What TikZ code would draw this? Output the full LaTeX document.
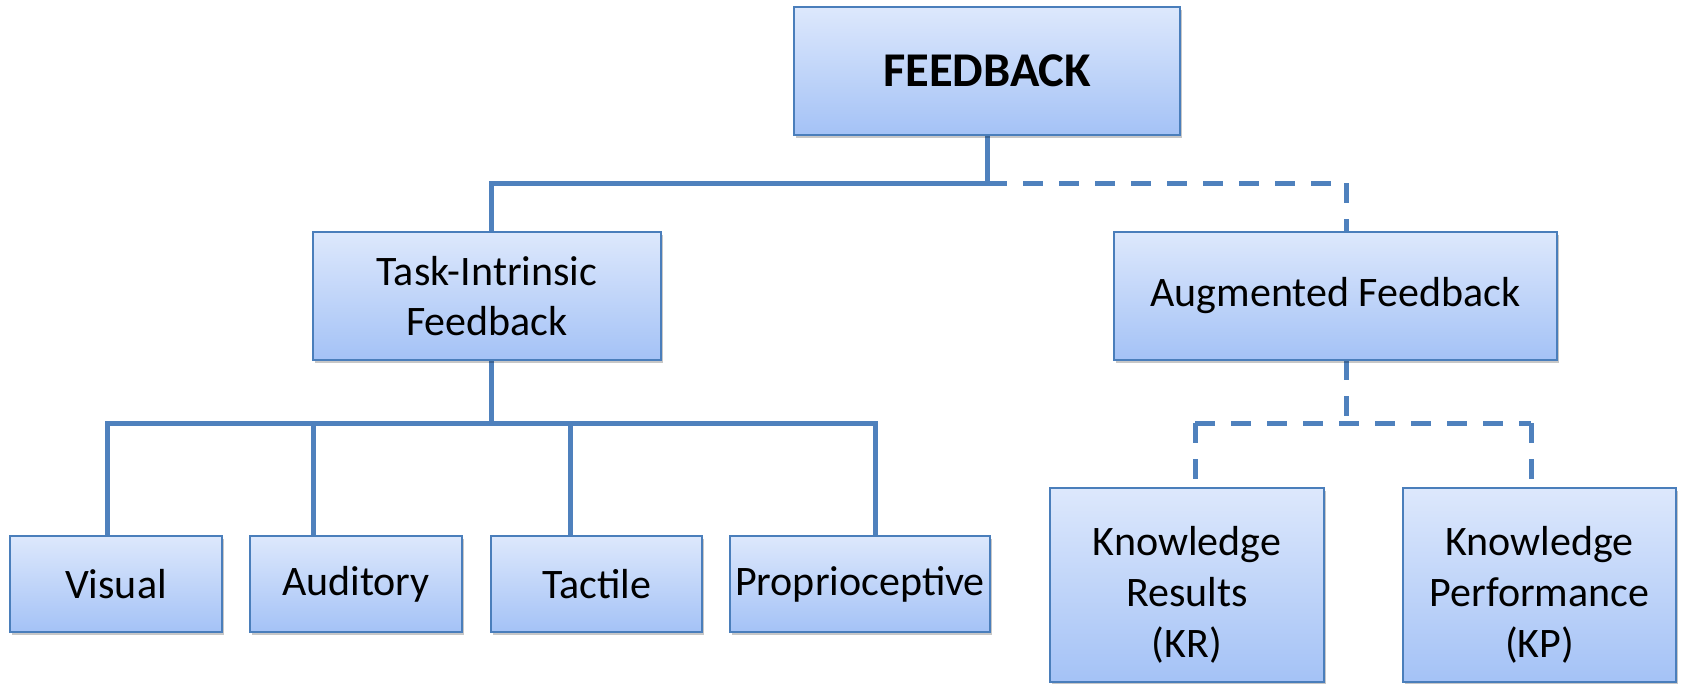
\documentclass[tikz,border=0pt]{standalone}
\usepackage{fontspec}
\setmainfont{Carlito}
\usetikzlibrary{shadows}
\definecolor{linkblue}{HTML}{4F81BD}
\definecolor{boxtop}{HTML}{DDE8FC}
\definecolor{boxbot}{HTML}{A4C2F6}
\definecolor{boxline}{HTML}{4A7EBB}
\tikzset{
  box/.style={draw=boxline, line width=2.5pt, top color=boxtop, bottom color=boxbot,
    align=center, inner sep=0pt,
    font=\fontsize{42}{50}\selectfont,
    drop shadow={shadow xshift=1.5pt, shadow yshift=-3pt, opacity=0.22, fill=black}},
  link/.style={draw=linkblue, line width=5pt},
  dlink/.style={link, dash pattern=on 20pt off 16pt},
}
\begin{document}
\begin{tikzpicture}[x=1pt, y=-1pt]
  \fill[white] (0,0) rectangle (1685,683);
  \useasboundingbox (0,0) rectangle (1685,683);

  % bend points of the connectors
  \coordinate (jtop) at (987,183);
  \coordinate (jaf) at (1346,183);
  \coordinate (jleft) at (491,423);
  \coordinate (kcl) at (1195,423);
  \coordinate (kcr) at (1531,423);

  % connectors (drawn first, boxes sit on top)
  \draw[dlink] (jtop) -- (jaf);
  \draw[dlink] (jaf) -- (1346,232);
  \draw[link] (987,135) -- (jtop) -| (491,232);

  \draw[link] (491,360) -- (jleft);
  \draw[link] (107,536) -- (107,423) -| (875,536);
  \draw[link] (313,423) -- (313,536);
  \draw[link] (570,423) -- (570,536);

  \draw[dlink] (1346,360) -- (1346,423);
  \draw[dlink] (kcl) -- (kcr);
  \draw[dlink] (kcl) -- (1195,488);
  \draw[dlink] (kcr) -- (1531,488);

  % boxes
  \node[box, minimum width=386pt, minimum height=128pt,
        font=\fontsize{48.5}{56}\selectfont\bfseries] (fb) at (987,71) {FEEDBACK};
  \node[box, minimum width=348pt, minimum height=128pt] (ti) at (487,296) {Task-Intrinsic\\Feedback};
  \node[box, minimum width=443pt, minimum height=128pt] (af) at (1335.5,296) {Augmented Feedback};

  \node[box, minimum width=212pt, minimum height=96pt] (vis) at (116,584) {Visual};
  \node[box, minimum width=212pt, minimum height=96pt] (aud) at (356,584) {Auditory};
  \node[box, minimum width=211pt, minimum height=96pt] (tac) at (596.5,584) {Tactile};
  \node[box, minimum width=260pt, minimum height=96pt] (pro) at (860,584) {Proprioceptive};

  \node[box, minimum width=274pt, minimum height=194pt] (kr) at (1187,585) {};
  \node[box, minimum width=273pt, minimum height=194pt] (kp) at (1539.5,585) {};
  \node[font=\fontsize{42}{51}\selectfont, align=center] (krt) at ([yshift=-10pt]kr.center) {Knowledge\\Results\\(KR)};
  \node[font=\fontsize{42}{51}\selectfont, align=center] (kpt) at ([yshift=-10pt]kp.center) {Knowledge\\Performance\\(KP)};
\end{tikzpicture}
\end{document}
